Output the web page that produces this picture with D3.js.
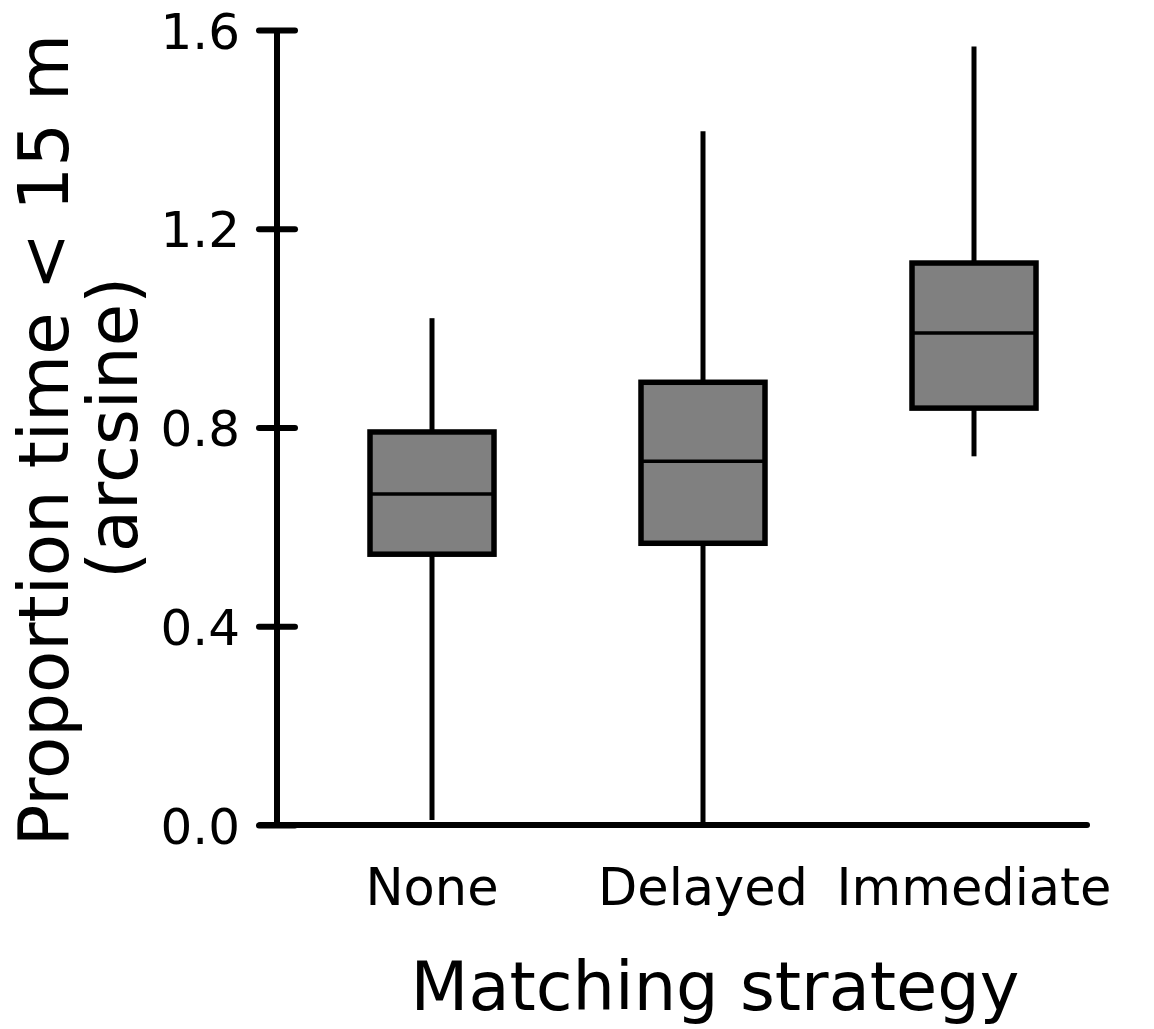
<!DOCTYPE html>
<html>
<head>
<meta charset="utf-8">
<script src="https://cdn.jsdelivr.net/npm/d3@7"></script>
<style>
  body { margin: 0; background: #fff; }
  text { font-family: "DejaVu Sans", Verdana, sans-serif; fill: #000; }
</style>
</head>
<body>
<svg id="chart" width="1154" height="1029"></svg>
<script>
// values
const categories = ["None", "Delayed", "Immediate"];
const whiskerLow = [0.01, 0.0, 0.742];
const q1 = [0.545, 0.567, 0.839];
const median = [0.666, 0.732, 0.99];
const q3 = [0.791, 0.891, 1.131];
const whiskerHigh = [1.02, 1.396, 1.567];
const yTicks = [0.0, 0.4, 0.8, 1.2, 1.6];

const boxes = categories.map((c, i) => ({
    name: c, lo: whiskerLow[i], q1: q1[i], med: median[i], q3: q3[i], hi: whiskerHigh[i]
}));

const svg = d3.select("#chart");

const axisX = 277;
const baseY = 825;

let y = d3.scaleLinear()
.domain([0, 1.6])
.range([baseY, 30]);

let x = d3.scaleBand()
.domain(categories)
.range([296.5, 1109.5])
.padding(0);

const boxW = 124;
const cx = d => x(d) + x.bandwidth() / 2;

// y axis
const yAxis = svg.append("g")
.attr("transform", `translate(${axisX},0)`)
.call(d3.axisLeft(y).tickValues(yTicks).tickFormat(d3.format(".1f")).tickSize(18).tickPadding(19));

yAxis.select(".domain").remove();
yAxis.selectAll(".tick line")
.attr("x1", 18)
.attr("stroke", "#000")
.attr("stroke-width", 6)
.attr("stroke-linecap", "round");
yAxis.selectAll(".tick text")
.attr("font-size", 50)
.attr("font-family", "DejaVu Sans, Verdana, sans-serif")
.attr("dy", "0.36em");

svg.append("line")
.attr("x1", axisX).attr("x2", axisX)
.attr("y1", y(1.6)).attr("y2", y(0))
.attr("stroke", "#000")
.attr("stroke-width", 6);

// x axis line (no ticks)
svg.append("line")
.attr("x1", 260).attr("x2", 1087)
.attr("y1", baseY).attr("y2", baseY)
.attr("stroke", "#000")
.attr("stroke-width", 6)
.attr("stroke-linecap", "round");

// boxes
const g = svg.append("g").selectAll("g")
.data(boxes)
.join("g");

g.append("line")
.attr("x1", d => cx(d.name)).attr("x2", d => cx(d.name))
.attr("y1", d => y(d.hi)).attr("y2", d => y(d.q3))
.attr("stroke", "#000").attr("stroke-width", 5);

g.append("line")
.attr("x1", d => cx(d.name)).attr("x2", d => cx(d.name))
.attr("y1", d => y(d.q1)).attr("y2", d => y(d.lo))
.attr("stroke", "#000").attr("stroke-width", 5);

g.append("rect")
.attr("x", d => cx(d.name) - boxW / 2)
.attr("width", boxW)
.attr("y", d => y(d.q3))
.attr("height", d => y(d.q1) - y(d.q3))
.attr("fill", "#808080")
.attr("stroke", "#000")
.attr("stroke-width", 5.5);

g.append("line")
.attr("x1", d => cx(d.name) - boxW / 2).attr("x2", d => cx(d.name) + boxW / 2)
.attr("y1", d => y(d.med)).attr("y2", d => y(d.med))
.attr("stroke", "#000").attr("stroke-width", 3.5);

// category labels
svg.append("g").selectAll("text")
.data(categories)
.join("text")
.attr("x", d => cx(d))
.attr("y", 905)
.attr("text-anchor", "middle")
.attr("font-size", 51)
.text(d => d);

// axis titles
svg.append("text")
.attr("x", 715)
.attr("y", 1010)
.attr("text-anchor", "middle")
.attr("font-size", 67)
.text("Matching strategy");

svg.append("text")
.attr("transform", "translate(68,440) rotate(-90)")
.attr("text-anchor", "middle")
.attr("font-size", 69)
.text("Proportion time < 15 m");

svg.append("text")
.attr("transform", "translate(137,428) rotate(-90)")
.attr("text-anchor", "middle")
.attr("font-size", 69)
.text("(arcsine)");
</script>
</body>
</html>
